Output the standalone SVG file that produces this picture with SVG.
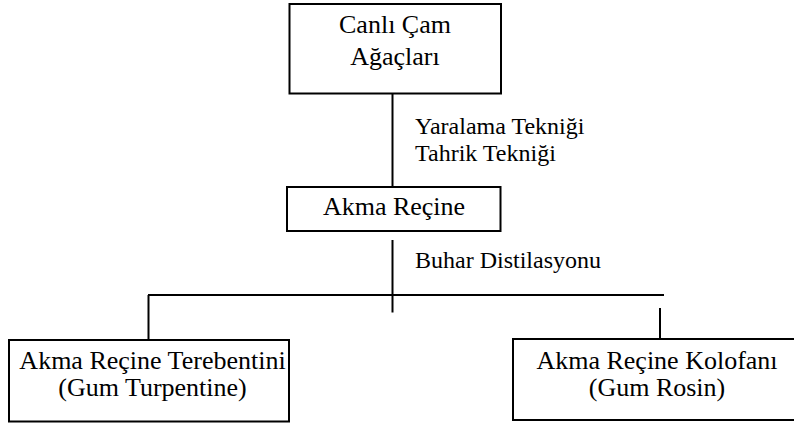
<svg xmlns="http://www.w3.org/2000/svg" width="794" height="425" viewBox="0 0 794 425">
<style>
.box{fill:#fff;stroke:#000;stroke-width:2}
.t{font-family:"Liberation Serif","Times New Roman",serif;font-size:26px;fill:#000;text-anchor:middle}
.l{font-family:"Liberation Serif","Times New Roman",serif;font-size:24px;fill:#000}
.c{stroke:#000;stroke-width:2;fill:none}
</style>
<rect width="794" height="425" fill="#fff"/>
<g id="connectors">
<line class="c" x1="392.5" y1="87" x2="392.5" y2="187"/>
<line class="c" x1="392.5" y1="240" x2="392.5" y2="312.5"/>
<line class="c" x1="148" y1="295" x2="664" y2="295"/>
<line class="c" x1="148.5" y1="295" x2="148.5" y2="340"/>
<line class="c" x1="660" y1="308" x2="660" y2="339"/>
</g>
<g id="node-canli">
<rect class="box" x="289.5" y="4" width="211.5" height="89.5"/>
<text class="t" x="395" y="33">Canlı Çam<tspan x="395" dy="32">Ağaçları</tspan></text>
</g>
<g id="label-teknik">
<text class="l" x="415" y="134">Yaralama Tekniği<tspan x="415" dy="27">Tahrik Tekniği</tspan></text>
</g>
<g id="node-akma">
<rect class="box" x="287" y="187" width="213.5" height="44"/>
<text class="t" x="394" y="215">Akma Reçine</text>
</g>
<g id="label-buhar">
<text class="l" x="415" y="268">Buhar Distilasyonu</text>
</g>
<g id="node-terebentin">
<rect class="box" x="9" y="340" width="280" height="81.5"/>
<text class="t" x="152.5" y="369">Akma Reçine Terebentini<tspan x="152.5" dy="27">(Gum Turpentine)</tspan></text>
</g>
<g id="node-kolofan">
<rect class="box" x="513" y="339" width="290" height="81"/>
<text class="t" x="657" y="369">Akma Reçine Kolofanı<tspan x="657" dy="27">(Gum Rosin)</tspan></text>
</g>
</svg>
